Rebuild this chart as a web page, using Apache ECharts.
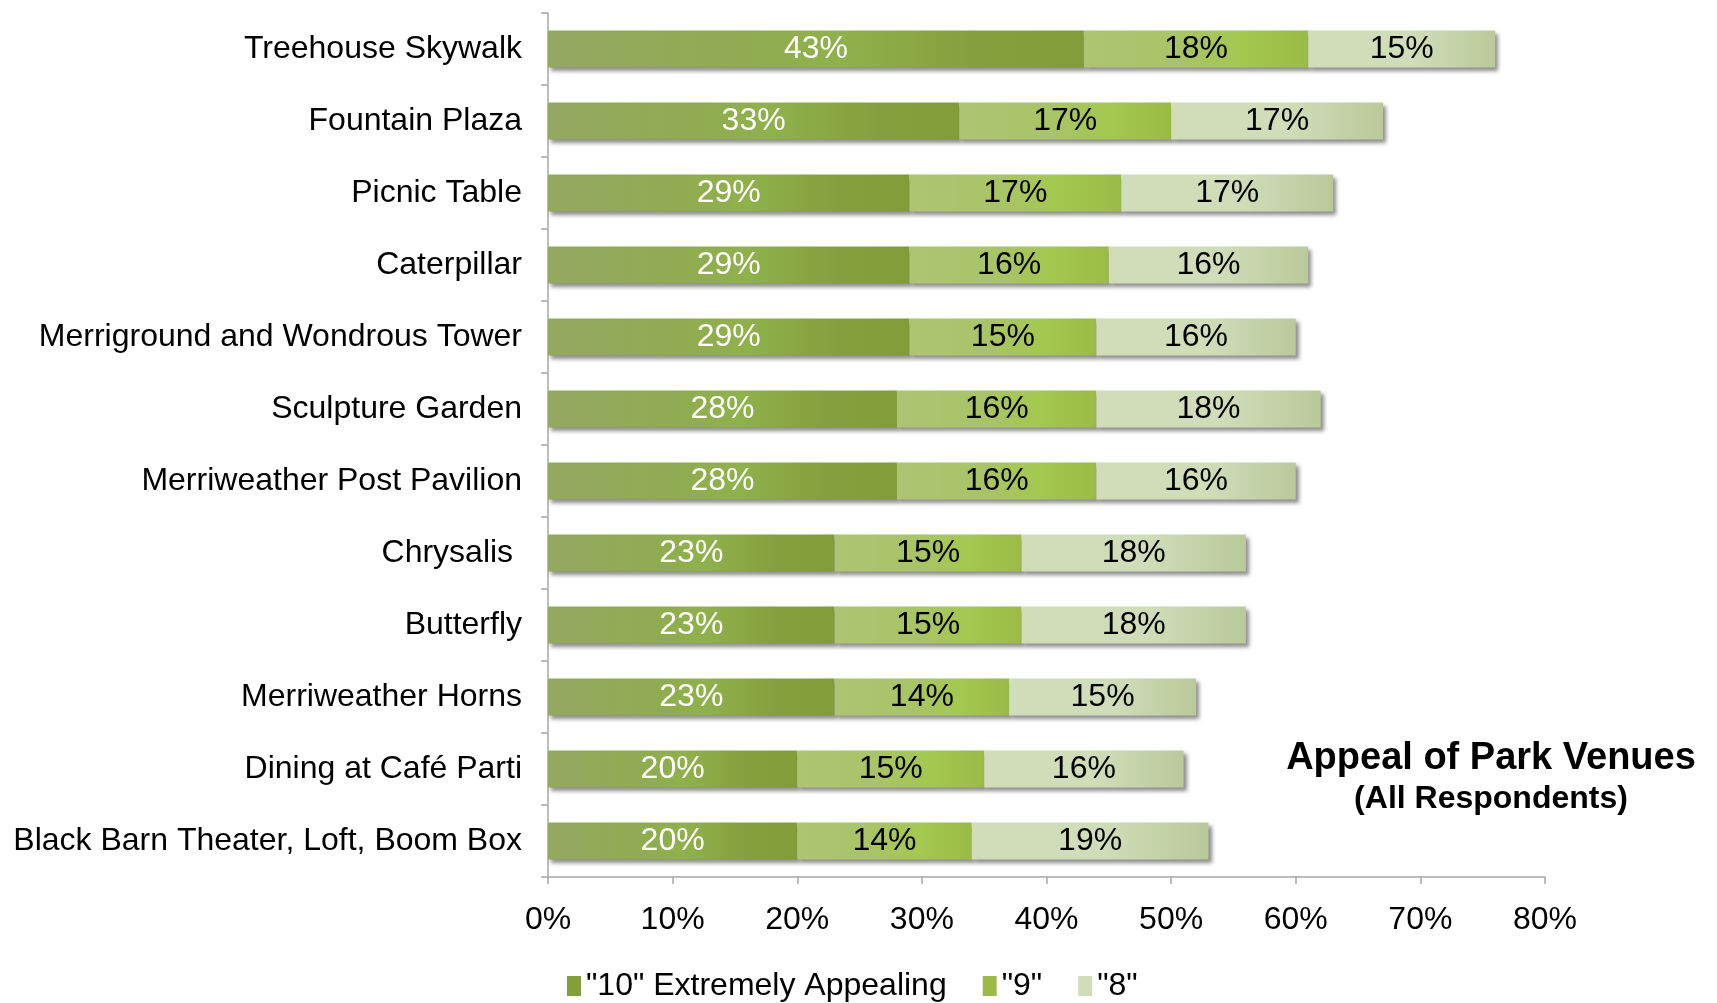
<!DOCTYPE html>
<html><head><meta charset="utf-8">
<script src="https://cdn.jsdelivr.net/npm/echarts@6/dist/echarts.min.js"></script>
<style>html,body{margin:0;padding:0;background:#fff}#c{width:1717px;height:1003px}</style>
</head><body><div id="c"></div>
<script>
const categories = ["Treehouse Skywalk","Fountain Plaza","Picnic Table","Caterpillar","Merriground and Wondrous Tower","Sculpture Garden","Merriweather Post Pavilion","Chrysalis ","Butterfly","Merriweather Horns","Dining at Café Parti","Black Barn Theater, Loft, Boom Box"];
const seriesNames = ["\"10\" Extremely Appealing","\"9\"","\"8\""];
const v10 = [43,33,29,29,29,28,28,23,23,23,20,20];
const v9  = [18,17,17,16,15,16,16,15,15,14,15,14];
const v8  = [15,17,17,16,16,18,16,18,18,15,16,19];
const xTicks = [0,10,20,30,40,50,60,70,80];

const FONT = '"Liberation Sans", Arial, sans-serif';
const grads = [
  [[0,'#95a862'],[0.35,'#90ab52'],[0.55,'#8fb14a'],[0.8,'#859f3e'],[1,'#829e3a']],
  [[0,'#adc473'],[0.45,'#a9c466'],[0.7,'#a4c850'],[1,'#9bbb46']],
  [[0,'#d0ddb8'],[0.55,'#d0ddb8'],[0.8,'#c4d2a8'],[1,'#bac99a']]
];
function grad(stops){return new echarts.graphic.LinearGradient(0,0,1,0,stops.map(s=>({offset:s[0],color:s[1]})));}
const legendColors = ['#82a03a','#9bbb46','#d0ddb8'];
const labelColors = ['#ffffff','#000000','#000000'];
const values = [v10,v9,v8];

const chart = echarts.init(document.getElementById('c'));
chart.setOption({
  animation:false,
  grid:{left:548,right:172,top:13,bottom:126,containLabel:false},
  xAxis:{type:'value',min:0,max:80,interval:10,
    axisLine:{show:true,lineStyle:{color:'#a6a6a6',width:1.5}},
    axisTick:{show:true,length:7,lineStyle:{color:'#a6a6a6',width:1.5}},
    splitLine:{show:false},
    axisLabel:{formatter:v=>xTicks.includes(v)?v+'%':'',fontSize:32,color:'#000',fontFamily:FONT,margin:27}
  },
  yAxis:{type:'category',data:categories,inverse:true,
    axisLine:{show:true,lineStyle:{color:'#a6a6a6',width:1.5}},
    axisTick:{show:true,length:7,lineStyle:{color:'#a6a6a6',width:1.5}},
    axisLabel:{fontSize:32,color:'#000',fontFamily:FONT,margin:26,padding:[4,0,0,0]}
  },
  legend:{left:562,top:965,itemWidth:14,itemHeight:20,itemGap:36,
    textStyle:{fontSize:32,color:'#000',fontFamily:FONT},
    data:seriesNames.map((n,i)=>({name:n,icon:'rect',itemStyle:{color:legendColors[i]}}))
  },
  graphic:[
    {type:'text',x:1491,y:759,style:{text:'Appeal of Park Venues',font:'bold 38px '+FONT,fill:'#000',textAlign:'center',textVerticalAlign:'middle'}},
    {type:'text',x:1491,y:799,style:{text:'(All Respondents)',font:'bold 32px '+FONT,fill:'#000',textAlign:'center',textVerticalAlign:'middle'}}
  ],
  series:seriesNames.map((n,i)=>({
    name:n,type:'bar',stack:'s',data:values[i],barWidth:37,
    itemStyle:{color:grad(grads[i]),shadowColor:'rgba(0,0,0,0.45)',shadowBlur:4,shadowOffsetX:3,shadowOffsetY:3},
    label:{show:true,position:'inside',formatter:'{c}%',fontSize:32,color:labelColors[i],fontFamily:FONT,padding:[4,0,0,0]}
  }))
});
</script></body></html>
